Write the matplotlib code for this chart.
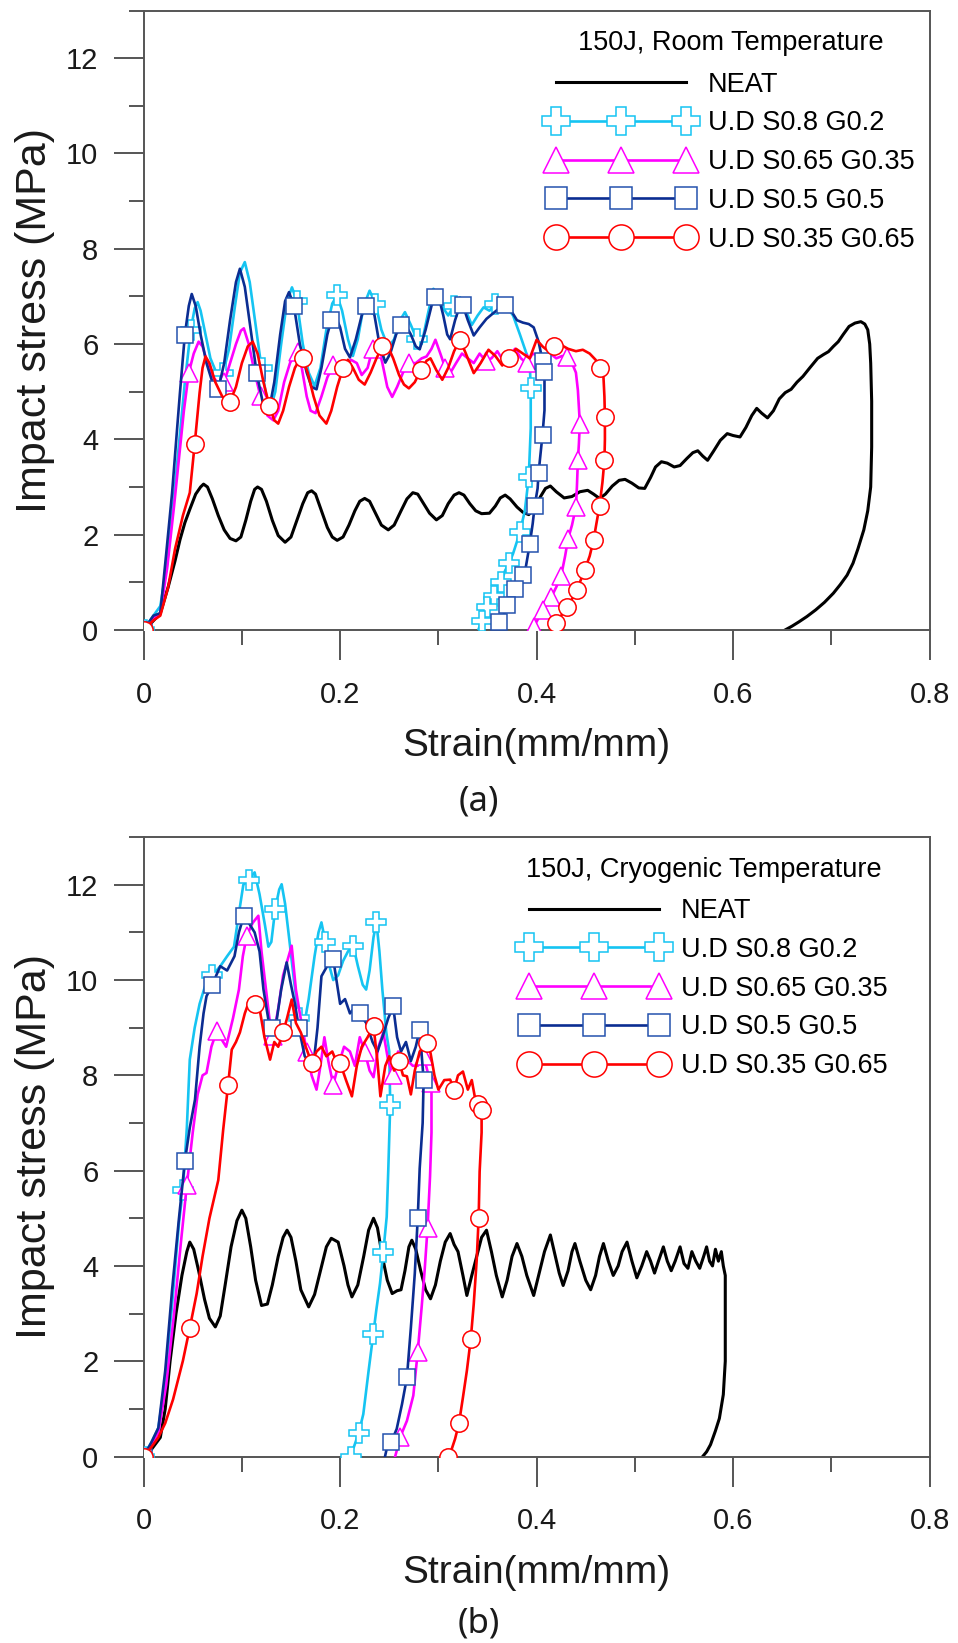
import numpy as np
import matplotlib.pyplot as plt
from matplotlib.ticker import MultipleLocator

plt.rcParams['font.family'] = ['Liberation Sans', 'DejaVu Sans']

# ---- (a) 150J, room temperature : (strain, stress MPa) ----
room_neat = [(0, 0), (.008, .15), (.017, .35), (.025, .9), (.032, 1.45), (.037, 1.89), (.042, 2.25),
             (.047, 2.53), (.053, 2.85), (.058, 3.0), (.061, 3.06), (.065, 3.0), (.070, 2.75), (.076, 2.4),
             (.082, 2.1), (.088, 1.92), (.094, 1.87), (.099, 1.95), (.104, 2.3), (.109, 2.7), (.113, 2.95),
             (.116, 3.0), (.120, 2.95), (.125, 2.7), (.131, 2.3), (.137, 1.98), (.144, 1.84), (.150, 1.95),
             (.156, 2.3), (.162, 2.65), (.167, 2.88), (.171, 2.92), (.175, 2.85), (.181, 2.5), (.187, 2.15),
             (.192, 1.95), (.197, 1.88), (.203, 1.95), (.209, 2.2), (.215, 2.5), (.220, 2.7), (.225, 2.76),
             (.230, 2.7), (.236, 2.45), (.242, 2.2), (.249, 2.10), (.255, 2.2), (.262, 2.5), (.268, 2.75),
             (.274, 2.88), (.279, 2.85), (.285, 2.65), (.291, 2.45), (.298, 2.31), (.304, 2.4), (.310, 2.65),
             (.316, 2.83), (.321, 2.88), (.326, 2.83), (.332, 2.65), (.338, 2.5), (.344, 2.44), (.352, 2.45),
             (.358, 2.6), (.363, 2.77), (.368, 2.83), (.373, 2.75), (.380, 2.58), (.386, 2.47), (.392, 2.42),
             (.398, 2.55), (.404, 2.8), (.409, 2.97), (.414, 3.02), (.420, 2.9), (.428, 2.77), (.436, 2.8),
             (.444, 2.9), (.452, 2.93), (.458, 2.85), (.464, 2.76), (.470, 2.85), (.477, 3.02), (.484, 3.14),
             (.490, 3.16), (.497, 3.08), (.504, 2.98), (.510, 2.97), (.516, 3.2), (.521, 3.42), (.527, 3.53),
             (.533, 3.5), (.540, 3.42), (.546, 3.45), (.553, 3.6), (.559, 3.72), (.564, 3.76), (.569, 3.65),
             (.574, 3.56), (.580, 3.75), (.587, 3.98), (.594, 4.12), (.600, 4.08), (.607, 4.05), (.613, 4.25),
             (.619, 4.5), (.624, 4.65), (.629, 4.55), (.635, 4.45), (.641, 4.6), (.647, 4.85), (.653, 4.98),
             (.659, 5.05), (.665, 5.2), (.671, 5.32), (.678, 5.5), (.686, 5.70), (.692, 5.78), (.697, 5.84),
             (.702, 5.95), (.707, 6.05), (.712, 6.2), (.718, 6.37), (.724, 6.44), (.730, 6.47), (.734, 6.42),
             (.737, 6.3), (.739, 6.0), (.740, 5.6), (.741, 4.8), (.741, 3.84), (.740, 3.0), (.737, 2.5),
             (.733, 2.1), (.727, 1.7), (.722, 1.4), (.716, 1.15), (.709, 0.95), (.702, 0.77), (.693, 0.58),
             (.684, 0.42), (.675, 0.28), (.667, 0.17), (.660, 0.08), (.653, 0.0)]

room_s08 = [(0, 0), (.010, .3), (.017, .5), (.024, 1.4), (.030, 2.6), (.036, 3.9), (.042, 5.2), (.048, 6.3),
            (.052, 6.75), (.055, 6.88), (.058, 6.7), (.063, 6.2), (.068, 5.7), (.074, 5.4), (.081, 5.40),
            (.087, 5.9), (.093, 6.8), (.098, 7.5), (.103, 7.72), (.108, 7.3), (.114, 6.4), (.120, 5.5),
            (.125, 4.9), (.129, 4.63), (.134, 5.0), (.140, 6.0), (.146, 6.9), (.151, 7.19), (.156, 6.9),
            (.162, 6.0), (.168, 5.4), (.174, 5.12), (.180, 5.5), (.186, 6.3), (.192, 6.85), (.197, 7.02),
            (.202, 6.7), (.208, 6.1), (.213, 5.75), (.218, 6.1), (.224, 6.8), (.230, 7.12), (.236, 6.85),
            (.242, 6.3), (.249, 5.93), (.255, 6.1), (.261, 6.5), (.266, 6.67), (.272, 6.4), (.278, 6.1),
            (.283, 6.0), (.289, 6.6), (.295, 7.16), (.300, 7.0), (.305, 6.75), (.310, 6.6), (.316, 6.8),
            (.322, 6.98), (.328, 6.7), (.334, 6.4), (.340, 6.6), (.346, 6.77), (.352, 6.7), (.358, 6.84),
            (.364, 6.8), (.370, 6.77), (.376, 6.6), (.383, 6.2), (.388, 5.9), (.393, 5.6), (.394, 5.07),
            (.394, 4.23), (.392, 3.21), (.388, 2.5), (.383, 2.05), (.376, 1.60), (.372, 1.4), (.368, 1.25),
            (.364, 1.0), (.361, 0.83), (.357, 0.72), (.354, 0.62), (.350, 0.48), (.347, 0.34), (.344, 0.18),
            (.341, 0.02)]

room_s065 = [(0, 0), (.010, .25), (.017, .35), (.024, 1.3), (.031, 2.6), (.036, 3.6), (.041, 4.6), (.046, 5.4),
             (.051, 5.8), (.056, 6.05), (.060, 5.95), (.065, 5.6), (.071, 5.3), (.077, 5.15), (.082, 5.2),
             (.088, 5.6), (.094, 6.0), (.099, 6.28), (.102, 6.33), (.107, 6.0), (.113, 5.4), (.119, 4.9),
             (.126, 4.5), (.132, 4.40), (.137, 4.6), (.143, 5.2), (.149, 5.6), (.154, 5.8), (.157, 5.84),
             (.161, 5.5), (.166, 4.9), (.170, 4.6), (.175, 4.55), (.181, 4.9), (.187, 5.3), (.193, 5.55),
             (.199, 5.5), (.205, 5.5), (.211, 5.67), (.217, 5.6), (.222, 5.35), (.228, 5.5), (.233, 5.9),
             (.238, 6.02), (.243, 5.6), (.248, 5.1), (.253, 4.89), (.258, 5.1), (.264, 5.4), (.270, 5.6),
             (.277, 5.6), (.283, 5.7), (.288, 5.74), (.293, 5.9), (.297, 6.09), (.302, 5.8), (.307, 5.5),
             (.312, 5.39), (.318, 5.6), (.324, 5.8), (.330, 5.7), (.336, 5.6), (.342, 5.8), (.348, 5.65),
             (.354, 5.7), (.360, 5.85), (.366, 5.65), (.372, 5.75), (.378, 5.9), (.384, 5.7), (.390, 5.6),
             (.396, 5.8), (.402, 5.75), (.408, 5.65), (.414, 5.8), (.420, 5.7), (.426, 5.75), (.431, 5.72),
             (.436, 5.6), (.440, 5.4), (.442, 5.03), (.444, 4.33), (.443, 3.9), (.442, 3.56), (.441, 3.0),
             (.440, 2.58), (.436, 2.2), (.432, 1.91), (.429, 1.55), (.425, 1.14), (.420, 0.9), (.415, 0.69),
             (.411, 0.55), (.406, 0.41), (.402, 0.25), (.397, 0.06), (.396, 0.0)]

room_s05 = [(0, 0), (.010, .3), (.017, .35), (.023, 1.6), (.029, 2.88), (.034, 4.2), (.037, 4.98), (.042, 6.2),
            (.046, 6.8), (.049, 7.05), (.053, 6.8), (.058, 6.2), (.064, 5.6), (.070, 5.2), (.076, 5.05),
            (.082, 5.6), (.088, 6.5), (.094, 7.3), (.098, 7.58), (.103, 7.2), (.109, 6.3), (.115, 5.4),
            (.121, 4.8), (.127, 4.53), (.133, 5.2), (.139, 6.2), (.144, 6.9), (.148, 7.09), (.153, 6.8),
            (.159, 6.0), (.166, 5.4), (.171, 5.1), (.176, 5.05), (.181, 5.5), (.187, 6.2), (.191, 6.5),
            (.195, 6.60), (.200, 6.35), (.205, 5.9), (.210, 5.72), (.216, 6.1), (.222, 6.6), (.226, 6.8),
            (.230, 6.88), (.235, 6.6), (.240, 6.0), (.246, 5.61), (.251, 5.8), (.257, 6.2), (.262, 6.4),
            (.266, 6.42), (.272, 6.2), (.277, 5.95), (.281, 5.89), (.287, 6.3), (.293, 6.8), (.297, 6.98),
            (.300, 7.02), (.305, 6.6), (.309, 6.2), (.312, 6.10), (.317, 6.5), (.321, 6.75), (.325, 6.81),
            (.330, 6.5), (.336, 6.18), (.342, 6.35), (.349, 6.53), (.356, 6.65), (.362, 6.75), (.368, 6.81),
            (.374, 6.7), (.380, 6.5), (.386, 6.45), (.392, 6.42), (.397, 6.35), (.402, 6.05), (.406, 5.65),
            (.408, 5.42), (.408, 4.61), (.406, 4.1), (.404, 3.70), (.402, 3.3), (.401, 2.97), (.398, 2.6),
            (.396, 2.23), (.393, 1.8), (.389, 1.32), (.386, 1.15), (.382, 0.97), (.378, 0.85), (.373, 0.69),
            (.370, 0.52), (.367, 0.34), (.362, 0.17), (.357, 0.02)]

room_s035 = [(0, 0), (.010, .2), (.017, .3), (.025, .9), (.032, 1.7), (.040, 2.4), (.047, 2.88), (.052, 3.9),
             (.057, 4.98), (.060, 5.5), (.063, 5.74), (.067, 5.6), (.073, 5.2), (.080, 4.9), (.088, 4.79),
             (.094, 5.1), (.100, 5.6), (.106, 5.95), (.111, 6.05), (.116, 5.8), (.122, 5.2), (.128, 4.7),
             (.133, 4.4), (.137, 4.33), (.142, 4.6), (.148, 5.1), (.154, 5.5), (.158, 5.65), (.162, 5.70),
             (.167, 5.4), (.173, 4.9), (.179, 4.5), (.186, 4.33), (.191, 4.6), (.197, 5.1), (.203, 5.5),
             (.208, 5.67), (.213, 5.5), (.219, 5.25), (.225, 5.15), (.231, 5.4), (.237, 5.7), (.243, 5.95),
             (.248, 5.98), (.254, 5.7), (.260, 5.35), (.265, 5.15), (.270, 5.07), (.276, 5.2), (.282, 5.45),
             (.288, 5.65), (.292, 5.70), (.298, 5.45), (.304, 5.25), (.310, 5.5), (.316, 5.85), (.322, 6.09),
             (.328, 5.8), (.336, 5.39), (.343, 5.6), (.351, 5.88), (.358, 5.75), (.365, 5.55), (.372, 5.7),
             (.379, 5.9), (.386, 5.8), (.393, 5.7), (.400, 6.09), (.406, 5.95), (.412, 5.85), (.418, 5.95),
             (.425, 5.98), (.432, 5.9), (.440, 5.85), (.447, 5.88), (.454, 5.8), (.460, 5.67), (.465, 5.5),
             (.468, 5.32), (.469, 4.9), (.4695, 4.47), (.4695, 4.0), (.469, 3.56), (.467, 3.1), (.464, 2.6),
             (.461, 2.25), (.458, 1.89), (.454, 1.55), (.449, 1.26), (.445, 1.05), (.441, 0.84), (.436, 0.65),
             (.431, 0.49), (.425, 0.3), (.420, 0.14), (.418, 0.0)]

# ---- (b) 150J, cryogenic temperature ----
cryo_neat = [(0, 0), (.008, .15), (.017, .4), (.022, 1.0), (.027, 2.01), (.033, 3.0), (.039, 3.8), (.044, 4.3),
             (.047, 4.5), (.051, 4.35), (.056, 3.9), (.062, 3.3), (.067, 2.9), (.073, 2.72), (.078, 2.95),
             (.083, 3.6), (.089, 4.4), (.095, 4.95), (.100, 5.17), (.104, 5.0), (.109, 4.4), (.114, 3.7),
             (.120, 3.17), (.126, 3.2), (.131, 3.6), (.137, 4.2), (.142, 4.6), (.146, 4.75), (.150, 4.6),
             (.155, 4.1), (.160, 3.5), (.168, 3.14), (.174, 3.4), (.180, 3.9), (.186, 4.4), (.191, 4.58),
             (.198, 4.5), (.204, 4.0), (.208, 3.6), (.212, 3.35), (.218, 3.6), (.224, 4.2), (.229, 4.75),
             (.234, 5.0), (.238, 4.8), (.243, 4.2), (.248, 3.7), (.253, 3.42), (.258, 3.48), (.262, 3.5),
             (.266, 3.9), (.270, 4.4), (.273, 4.54), (.277, 4.35), (.282, 3.9), (.287, 3.5), (.292, 3.31),
             (.297, 3.6), (.302, 4.1), (.307, 4.5), (.312, 4.68), (.316, 4.45), (.320, 4.3), (.325, 3.8),
             (.329, 3.38), (.334, 3.8), (.339, 4.2), (.344, 4.6), (.349, 4.75), (.354, 4.3), (.359, 3.8),
             (.365, 3.35), (.370, 3.7), (.375, 4.2), (.380, 4.47), (.385, 4.2), (.390, 3.8), (.397, 3.38),
             (.402, 3.8), (.408, 4.3), (.414, 4.65), (.419, 4.2), (.423, 3.85), (.427, 3.59), (.432, 3.9),
             (.436, 4.3), (.439, 4.47), (.444, 4.1), (.450, 3.7), (.455, 3.5), (.460, 3.8), (.464, 4.2),
             (.468, 4.47), (.473, 4.1), (.478, 3.8), (.483, 4.0), (.487, 4.3), (.492, 4.5), (.497, 4.1),
             (.502, 3.75), (.507, 4.0), (.512, 4.3), (.516, 4.1), (.520, 3.85), (.524, 4.1), (.529, 4.4),
             (.533, 4.1), (.537, 3.9), (.541, 4.1), (.546, 4.4), (.550, 4.05), (.554, 3.95), (.558, 4.3),
             (.562, 4.1), (.566, 3.95), (.570, 4.2), (.573, 4.4), (.576, 4.1), (.579, 4.0), (.582, 4.35),
             (.585, 4.1), (.588, 4.3), (.590, 4.0), (.592, 3.8), (.592, 3.0), (.592, 2.0), (.590, 1.3),
             (.586, 0.8), (.582, 0.54), (.577, 0.25), (.573, 0.1), (.569, 0.0)]

cryo_s08 = [(0, 0), (.008, .3), (.015, .6), (.022, 1.6), (.029, 3.2), (.036, 4.9), (.040, 5.6), (.044, 6.9),
            (.047, 8.33), (.052, 9.0), (.057, 9.5), (.0625, 9.87), (.070, 10.1), (.078, 10.29), (.085, 10.5),
            (.092, 10.7), (.097, 11.4), (.1015, 12.0), (.107, 12.1), (.113, 12.26), (.118, 11.8), (.1236, 11.14),
            (.127, 10.7), (.130, 10.8), (.134, 11.5), (.138, 11.9), (.1405, 12.01), (.144, 11.6), (.148, 10.9),
            (.153, 10.0), (.158, 9.2), (.163, 9.0), (.168, 9.6), (.174, 10.5), (.178, 11.0), (.181, 11.21),
            (.185, 10.8), (.189, 10.3), (.193, 10.0), (.198, 10.1), (.203, 10.4), (.208, 10.6), (.2134, 10.72),
            (.218, 10.3), (.223, 9.9), (.2265, 9.8), (.230, 10.2), (.234, 10.9), (.237, 11.21), (.240, 10.6),
            (.243, 9.8), (.247, 8.9), (.250, 8.5), (.251, 7.38), (.249, 6.0), (.2474, 5.03), (.244, 4.3),
            (.2406, 3.63), (.237, 3.1), (.2338, 2.58), (.229, 1.8), (.2236, 0.89), (.219, 0.5), (.214, 0.2),
            (.2118, 0.12), (.211, 0.0)]

cryo_s065 = [(0, 0), (.008, .25), (.015, .5), (.023, 1.5), (.031, 3.0), (.038, 4.5), (.044, 5.7), (.050, 6.8),
             (.055, 7.6), (.060, 8.0), (.064, 8.05), (.069, 8.6), (.0744, 8.93), (.078, 8.8), (.084, 8.6),
             (.091, 9.2), (.097, 9.8), (.101, 10.5), (.105, 10.93), (.111, 11.2), (.1168, 11.35), (.120, 10.6),
             (.124, 9.9), (.128, 9.2), (.132, 8.82), (.137, 9.4), (.142, 10.1), (.1507, 10.72), (.155, 9.8),
             (.159, 9.3), (.166, 8.5), (.171, 8.0), (.176, 7.7), (.180, 8.2), (.184, 8.8), (.188, 8.3),
             (.193, 7.8), (.198, 8.2), (.204, 8.6), (.210, 8.5), (.215, 8.2), (.220, 8.8), (.225, 8.5),
             (.230, 8.1), (.234, 7.96), (.239, 8.6), (.244, 8.9), (.249, 8.3), (.254, 8.0), (.259, 8.5),
             (.264, 8.4), (.269, 8.3), (.274, 8.2), (.279, 8.2), (.285, 8.4), (.290, 8.0), (.293, 7.84),
             (.293, 6.8), (.2915, 5.87), (.289, 4.8), (.286, 3.9), (.283, 3.14), (.279, 2.2), (.2745, 1.28),
             (.268, 0.75), (.261, 0.4), (.258, 0.15), (.256, 0.0)]

cryo_s05 = [(0, 0), (.008, .3), (.015, .6), (.022, 1.8), (.029, 3.5), (.036, 5.0), (.042, 6.2), (.047, 6.9),
            (.0523, 7.49), (.057, 8.6), (.061, 9.3), (.064, 9.66), (.070, 9.9), (.074, 10.1), (.078, 10.29),
            (.085, 10.2), (.0925, 10.5), (.097, 11.0), (.102, 11.35), (.107, 11.2), (.113, 11.0), (.118, 10.6),
            (.122, 9.8), (.127, 9.17), (.131, 9.0), (.135, 9.1), (.140, 9.8), (.1456, 10.37), (.150, 9.9),
            (.154, 9.5), (.158, 9.0), (.164, 8.4), (.1727, 8.19), (.177, 9.0), (.181, 10.08), (.187, 10.3),
            (.193, 10.44), (.197, 9.9), (.200, 9.5), (.205, 9.6), (.210, 9.3), (.214, 9.4), (.220, 9.3),
            (.2265, 9.1), (.233, 8.7), (.238, 8.5), (.243, 8.8), (.249, 9.2), (.254, 9.45), (.258, 8.8),
            (.262, 8.5), (.267, 8.7), (.272, 8.3), (.277, 8.6), (.281, 8.96), (.285, 7.91), (.284, 7.0),
            (.281, 6.05), (.279, 5.0), (.276, 3.84), (.272, 2.7), (.268, 1.66), (.263, 1.1), (.2576, 0.58),
            (.252, 0.3), (.2474, 0.16), (.2457, 0.0)]

cryo_s035 = [(0, 0), (.008, .2), (.015, .4), (.022, .7), (.030, 1.2), (.040, 2.01), (.047, 2.7), (.054, 3.42),
             (.060, 4.2), (.067, 5.0), (.076, 5.8), (.081, 6.86), (.086, 7.8), (.0897, 8.54), (.094, 8.7),
             (.098, 8.9), (.103, 9.3), (.108, 9.59), (.113, 9.5), (.118, 9.4), (.123, 8.8), (.1287, 8.33),
             (.133, 8.7), (.137, 8.6), (.142, 8.9), (.146, 9.2), (.1507, 9.59), (.155, 9.1), (.160, 8.9),
             (.165, 8.6), (.171, 8.26), (.176, 8.5), (.181, 8.6), (.186, 8.4), (.192, 8.5), (.196, 8.3),
             (.200, 8.26), (.206, 7.9), (.212, 7.56), (.217, 8.2), (.222, 8.6), (.228, 8.8), (.234, 9.03),
             (.238, 8.3), (.241, 7.56), (.246, 8.2), (.250, 8.4), (.255, 8.1), (.260, 8.3), (.264, 8.0),
             (.268, 7.98), (.272, 7.6), (.276, 8.1), (.281, 8.5), (.288, 8.68), (.292, 8.47), (.296, 8.0),
             (.300, 7.7), (.306, 7.9), (.312, 7.91), (.316, 7.7), (.320, 8.0), (.325, 8.08), (.330, 7.7),
             (.334, 7.9), (.337, 7.56), (.340, 7.4), (.344, 7.28), (.344, 6.8), (.342, 5.98), (.341, 5.0),
             (.339, 4.12), (.336, 3.2), (.333, 2.47), (.329, 1.8), (.325, 1.24), (.321, 0.7), (.317, 0.37),
             (.313, 0.12), (.310, 0.0)]

series_labels = ["NEAT", "U.D S0.8 G0.2", "U.D S0.65 G0.35", "U.D S0.5 G0.5", "U.D S0.35 G0.65"]

styles = [
    dict(color='black', lw=2.2, marker=None),
    dict(color='#15c4f2', lw=1.9, marker='P', ms=14, mec='#15c4f2'),
    dict(color='#ff00ff', lw=1.9, marker='^', ms=13, mec='#ff00ff'),
    dict(color='#0b2d92', lw=1.9, marker='s', ms=11, mec='#2452ae'),
    dict(color='#ff0000', lw=1.9, marker='o', ms=12.5, mec='#ff0000'),
]

SPINE = '#555555'


def mark_idx(x, step_a, step_b):
    # sparse markers on loading part, dense on the unloading part
    k = int(np.argmax(x))
    return list(range(0, k, step_a)) + list(range(k, len(x), step_b))


def draw_panel(ax, curves, title, leg_x, step_a, step_b):
    for pts, label, st in zip(curves, series_labels, styles):
        x, y = zip(*pts)
        if st['marker'] is None:
            ax.plot(x, y, color=st['color'], lw=st['lw'], label=label, zorder=2)
        else:
            ax.plot(x, y, color=st['color'], lw=st['lw'], marker=st['marker'], ms=st['ms'],
                    mfc='white', mec=st['mec'], mew=1.1,
                    markevery=mark_idx(x, step_a, step_b), label=label, zorder=3)

    ax.set_xlim(0, 0.8)
    ax.set_ylim(0, 13)
    ax.xaxis.set_major_locator(MultipleLocator(0.2))
    ax.xaxis.set_minor_locator(MultipleLocator(0.1))
    ax.yaxis.set_major_locator(MultipleLocator(2))
    ax.yaxis.set_minor_locator(MultipleLocator(1))
    ax.set_xticks([0, 0.2, 0.4, 0.6, 0.8])
    ax.set_xticklabels(["0", "0.2", "0.4", "0.6", "0.8"])

    for sp in ax.spines.values():
        sp.set_color(SPINE)
        sp.set_linewidth(1.4)
    ax.tick_params(which='major', direction='out', length=21.6, width=1.4, color=SPINE,
                   labelsize=21, labelcolor='#1a1a1a')
    ax.tick_params(which='minor', direction='out', length=10.8, width=1.4, color=SPINE)
    ax.tick_params(axis='x', which='major', pad=15)
    ax.tick_params(axis='y', which='major', pad=11)

    ax.set_xlabel("Strain(mm/mm)", fontsize=28, labelpad=14, color='#1a1a1a')
    ax.set_ylabel("Impact stress (MPa)", fontsize=31, labelpad=8, color='#1a1a1a')

    leg = ax.legend(loc='upper left', bbox_to_anchor=(leg_x, 0.968), frameon=False,
                    title=title, title_fontsize=19.5, fontsize=19.5,
                    handlelength=5.4, handletextpad=0.5, labelspacing=0.47,
                    numpoints=3, markerscale=1.45, borderpad=0, borderaxespad=0)
    leg._legend_box.sep = 11


fig = plt.figure(figsize=(9.58, 16.43), dpi=100)
ax1 = fig.add_axes([0.1499, 0.6166, 0.8205, 0.3770])
ax2 = fig.add_axes([0.1499, 0.1135, 0.8205, 0.3770])

draw_panel(ax1, [room_neat, room_s08, room_s065, room_s05, room_s035],
           "150J, Room Temperature", 0.5145, 7, 2)
draw_panel(ax2, [cryo_neat, cryo_s08, cryo_s065, cryo_s05, cryo_s035],
           "150J, Cryogenic Temperature", 0.480, 6, 3)

fig.text(0.5, 1 - 802 / 1643, "(a)", ha='center', va='center', fontsize=25,
         family=['Noto Sans', 'DejaVu Sans'], color='#1a1a1a')
fig.text(0.5, 1 - 1624 / 1643, "(b)", ha='center', va='center', fontsize=25,
         family=['Noto Sans', 'DejaVu Sans'], color='#1a1a1a')

fig.savefig("out.png", dpi=100)
